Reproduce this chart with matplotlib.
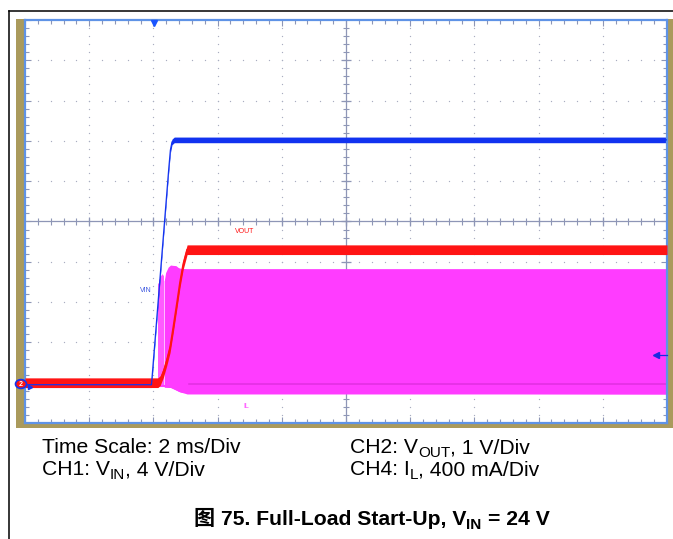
import numpy as np
import matplotlib
matplotlib.use('Agg')
import matplotlib.pyplot as plt
from matplotlib.patches import Rectangle, Circle
from matplotlib.lines import Line2D

# ---------------- data ----------------
# time in ms (2 ms/div, screen spans -10..10 ms)
vin_t = [-10.0, -6.06, -5.52, -5.47, -5.42, -5.35, 10.0]
vin_v = [0.0, 0.0, 21.5, 23.3, 24.1, 24.3, 24.3]          # V, CH1 4 V/div

vout_t = [-10.0, -5.86, -5.79, -5.69, -5.585, -5.48, -5.38, -5.27, -5.17, -5.07, -4.95, 10.0]
vout_v = [0.0, 0.0, 0.05, 0.25, 0.54, 0.87, 1.37, 1.95, 2.49, 2.94, 3.3, 3.3]   # V, CH2 1 V/div

il_up_t = [-5.66, -5.62, -5.54, -5.47, -5.30, -5.20, -5.10, 10.0]
il_up = [1040, 1120, 1175, 1195, 1190, 1165, 1158, 1158]   # mA, CH4 400 mA/div
il_lo_t = [-5.66, -5.45, -5.20, -4.95, 10.0]
il_lo = [-15, -20, -60, -84, -84]
il_spike_t = [-5.86, -5.82, -5.78, -5.75, -5.72, -5.69]
il_spike = [1020, 1060, 1090, 1100, 1110, 1100]

# channel settings (units/div, ground position in divisions from bottom)
ch1_scale, ch1_gnd = 4.0, 0.95
ch2_scale, ch2_gnd = 1.0, 1.00
ch4_scale, ch4_gnd = 400.0, 0.93

# caption pieces: (text, is_subscript)
caption_left = [[('Time Scale: 2 ms/Div', False)],
                [('CH1: V', False), ('IN', True), (', 4 V/Div', False)]]
caption_right = [[('CH2: V', False), ('OUT', True), (', 1 V/Div', False)],
                 [('CH4: I', False), ('L', True), (', 400 mA/Div', False)]]
title_pieces = [('图', False), (' ', False), ('75. Full-Load Start-Up, V', False),
                ('IN', True), (' ', False), ('= 24 V', False)]

# ---------------- style ----------------
FAM = ['Liberation Sans', 'Noto Sans CJK SC', 'DejaVu Sans']
CJK = ['Noto Sans CJK SC', 'Liberation Sans']

BLUE = '#1233f0'
RED = '#ff1414'
MAG = '#ff3cff'
GOLD = '#aa9a5c'
BORDER = '#5f93e6'
GRID = '#8e96b6'
DOT = '#a9adc0'

W, H = 673, 539
fig = plt.figure(figsize=(W / 100, H / 100), dpi=100)
fig.patch.set_facecolor('white')


def fx(x):
    return x / W


def fy(y):
    return 1 - y / H


# outer document frame
fig.add_artist(Line2D([fx(8.5), fx(8.5)], [fy(11), 0], color='black', lw=1.1))
fig.add_artist(Line2D([fx(8.5), 1], [fy(11), fy(11)], color='black', lw=1.1))

# scope bezel
fig.add_artist(Rectangle((fx(16), fy(428)), fx(674) - fx(16), fy(19) - fy(428),
                         facecolor=GOLD, edgecolor='none', zorder=-1,
                         transform=fig.transFigure))

ax = fig.add_axes([fx(25), fy(423), fx(667) - fx(25), fy(20) - fy(423)])
ax.set_xlim(-10, 10)
ax.set_ylim(0, 10)
ax.set_facecolor('white')
for s in ax.spines.values():
    s.set_color(BORDER)
    s.set_linewidth(1.6)

# edge ticks
ax.set_xticks(np.arange(-10, 10.01, 2))
ax.set_yticks(np.arange(0, 10.01, 1))
ax.set_xticks(np.arange(-10, 10.01, 0.4), minor=True)
ax.set_yticks(np.arange(0, 10.01, 0.2), minor=True)
ax.tick_params(which='both', direction='in', top=True, right=True,
               labelbottom=False, labelleft=False, color=GRID, width=0.8)
ax.tick_params(which='major', length=4.2)
ax.tick_params(which='minor', length=3.0)

# dotted graticule
xmaj = [x for x in np.arange(-8, 8.01, 2) if abs(x) > 1e-6]
ymaj = [y for y in np.arange(1, 9.01, 1) if abs(y - 5) > 1e-6]
ymin = np.arange(0.2, 9.9, 0.2)
xmin = np.arange(-9.6, 9.7, 0.4)
dx, dy = np.meshgrid(xmaj, ymin)
ax.scatter(dx.ravel(), dy.ravel(), s=0.9, color=DOT, lw=0, zorder=1)
dx, dy = np.meshgrid(xmin, ymaj)
ax.scatter(dx.ravel(), dy.ravel(), s=0.9, color=DOT, lw=0, zorder=1)

# centre axes with ticks
ax.axhline(5, color=GRID, lw=0.9, zorder=1)
ax.axvline(0, color=GRID, lw=0.9, zorder=1)
ax.vlines(xmin, 5 - 0.08, 5 + 0.08, color=GRID, lw=0.8, zorder=1)
ax.vlines(np.arange(-8, 8.01, 2), 5 - 0.12, 5 + 0.12, color=GRID, lw=0.9, zorder=1)
ax.hlines(ymin, -0.1, 0.1, color=GRID, lw=0.8, zorder=1)
ax.hlines(np.arange(1, 9.01, 1), -0.15, 0.15, color=GRID, lw=0.9, zorder=1)

# ---------------- traces ----------------
# CH4 inductor current
il_up_y = ch4_gnd + np.array(il_up) / ch4_scale
il_lo_y = ch4_gnd + np.array(il_lo) / ch4_scale
ax.fill_between(il_up_t, np.interp(il_up_t, il_lo_t, il_lo_y), il_up_y,
                color=MAG, lw=0, zorder=2)
ax.fill_between(il_lo_t, il_lo_y, np.interp(il_lo_t, il_up_t, il_up_y),
                color=MAG, lw=0, zorder=2)
ax.vlines(il_spike_t, ch4_gnd, ch4_gnd + np.array(il_spike) / ch4_scale,
          color=MAG, lw=0.6, zorder=2)
ax.plot([-10, il_up_t[0]], [ch4_gnd, ch4_gnd], color=MAG, lw=1.5, zorder=2)
ax.plot([-4.9, 10], [ch4_gnd + 0.05, ch4_gnd + 0.05], color='#e030e0', lw=1.1, zorder=2)

# CH1 input voltage (low part sits under CH2)
vin_y = ch1_gnd + np.array(vin_v) / ch1_scale
ax.fill_between(vin_t, vin_y - 0.07, vin_y + 0.07, color=BLUE, lw=0, zorder=2.5)
ax.plot(vin_t, vin_y, color=BLUE, lw=0.9, zorder=4)

# CH2 output voltage
vout_y = ch2_gnd + np.array(vout_v) / ch2_scale
ax.fill_between(vout_t, vout_y - 0.12, vout_y + 0.12, color=RED, lw=0, zorder=3)
ax.plot(vout_t, vout_y, color=RED, lw=1.3, zorder=3)

# trace labels
ax.text(-6.23, 3.3, 'VIN', color='#3a55e0', fontsize=5, family=FAM, ha='center', va='center')
ax.text(-3.15, 4.75, 'VOUT', color=RED, fontsize=5, family=FAM, ha='center', va='center')
ax.text(-3.12, 0.4, 'IL', color=MAG, fontsize=5, family=FAM, ha='center', va='center')

# channel ground marker
fig.add_artist(Circle((fx(21), fy(384)), 5.5 / W, facecolor=RED, edgecolor=BLUE,
                      lw=1.2, zorder=6, transform=fig.transFigure))
fig.text(fx(21), fy(384), '2', color='white', fontsize=5, fontweight='bold',
         ha='center', va='center', zorder=7, family=FAM)
fig.add_artist(Line2D([fx(30)], [fy(386.5)], marker='>', ms=3, color=BLUE,
                      lw=0, zorder=6))
# trigger position and level markers
fig.add_artist(Line2D([fx(154)], [fy(23)], marker='v', ms=5, color='#1a55ff',
                      lw=0, zorder=6))
fig.add_artist(Line2D([fx(656), fx(667)], [fy(355), fy(355)], color='#1a2ae0',
                      lw=0.9, zorder=6))
fig.add_artist(Line2D([fx(656)], [fy(355)], marker='<', ms=4, color='#1a2ae0',
                      lw=0, zorder=6))

# ---------------- captions ----------------
renderer = fig.canvas.get_renderer()


def draw_pieces(x_px, y_px, pieces, fontsize, weight='normal'):
    em = fontsize * 100 / 72.0
    x = x_px
    for s, sub in pieces:
        if s == ' ':
            x += 0.278 * em
            continue
        fs = fontsize * 0.72 if sub else fontsize
        yy = y_px + (0.2 * em if sub else 0)
        fam = CJK if s == '图' else FAM
        t = fig.text(fx(x), fy(yy), s, fontsize=fs, family=fam, weight=weight,
                     va='baseline', ha='left')
        bb = t.get_window_extent(renderer)
        x = bb.x1
    return x


for i, p in enumerate(caption_left):
    draw_pieces(41.5, 453 + 22 * i, p, 15.2)
for i, p in enumerate(caption_right):
    draw_pieces(350, 453 + 22 * i, p, 15.2)
draw_pieces(194, 525, title_pieces, 15.2, weight='bold')

fig.savefig('out.png', dpi=100)
